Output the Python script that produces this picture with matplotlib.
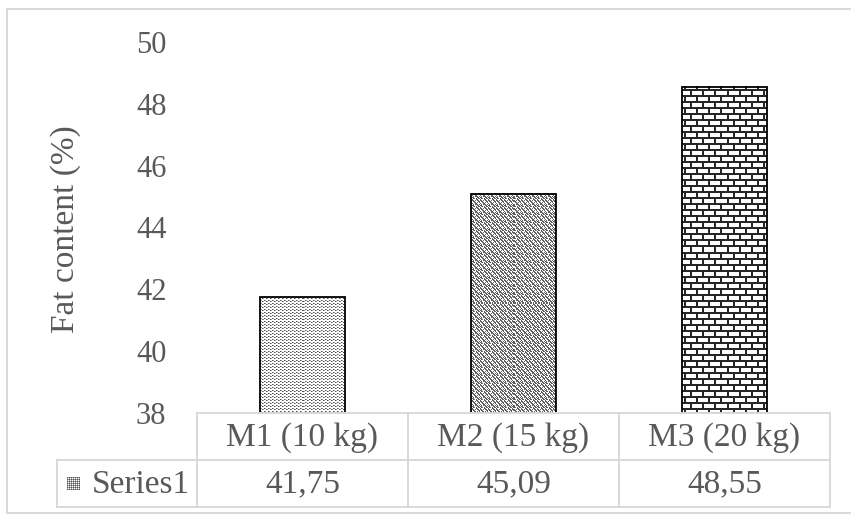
import numpy as np
import matplotlib
matplotlib.use("Agg")
import matplotlib.pyplot as plt
from matplotlib.lines import Line2D

# ---- data -------------------------------------------------------------
categories = ["M1 (10 kg)", "M2 (15 kg)", "M3 (20 kg)"]
fat_content = [41.75, 45.09, 48.55]
value_labels = ["41,75", "45,09", "48,55"]
series_name = "Series1"
y_ticks = [38, 40, 42, 44, 46, 48, 50]
y_range = (38, 50)

# ---- style ------------------------------------------------------------
plt.rcParams["font.family"] = ["Liberation Serif", "DejaVu Serif"]
TEXT = "#595959"
GRID = "#d9d9d9"
FS_TICK = 22
FS = 24

W, H = 851, 516
fig = plt.figure(figsize=(W / 100, H / 100), dpi=100)


def fx(px):
    return px / W


def fy(py):
    # py measured from the top edge of the canvas
    return 1 - py / H


AX_L, AX_R, AX_T, AX_B = 197, 830, 42, 413
ax = fig.add_axes([fx(AX_L), fy(AX_B), (AX_R - AX_L) / W, (AX_B - AX_T) / H])
ax.set_xlim(-0.5, len(categories) - 0.5)
ax.set_ylim(*y_range)
for s in ax.spines.values():
    s.set_visible(False)
ax.set_xticks([])
ax.set_yticks(y_ticks)
ax.tick_params(axis="y", length=0, pad=22, labelsize=FS_TICK, labelcolor=TEXT)

fig.text(fx(66), fy(229), "Fat content (%)", rotation=90, ha="center",
         va="center", fontsize=FS, color=TEXT)

# ---- fill patterns (pixel tiles) ---------------------------------------
D, M, Wh = (0.33, 0.33, 0.33), (0.62, 0.62, 0.62), (1.0, 1.0, 1.0)

dots_tile = np.array([
    [D, M, Wh, Wh],
    [Wh, Wh, D, M],
    [Wh, Wh, Wh, Wh],
    [D, M, Wh, Wh],
    [Wh, Wh, D, M],
    [Wh, Wh, Wh, Wh],
])

weave_bits = np.array([
    [1, 0, 0, 0, 1, 1, 0, 0],
    [1, 1, 0, 1, 0, 1, 1, 0],
    [0, 1, 1, 0, 0, 0, 1, 1],
    [0, 0, 1, 1, 0, 1, 0, 1],
    [1, 0, 0, 1, 1, 0, 0, 0],
    [0, 1, 0, 1, 1, 1, 0, 1],
    [1, 1, 0, 0, 0, 1, 1, 0],
    [0, 1, 1, 0, 1, 0, 1, 1],
])

brick_bits = np.zeros((12, 12), dtype=int)
brick_bits[0:2, :] = 1
brick_bits[6:8, :] = 1
brick_bits[2:6, 0:2] = 1
brick_bits[8:12, 6:8] = 1


def bits_to_rgb(bits, ink):
    out = np.ones(bits.shape + (3,))
    out[bits == 1] = ink
    return out


tiles = [
    dots_tile,
    bits_to_rgb(weave_bits, (0.38, 0.38, 0.38)),
    bits_to_rgb(brick_bits, (0.15, 0.15, 0.15)),
]


def tiled(tile, col0, row0, w, h):
    th, tw = tile.shape[:2]
    rows = (row0 + np.arange(h)) % th
    cols = (col0 + np.arange(w)) % tw
    return tile[rows[:, None], cols[None, :]]


# ---- bars --------------------------------------------------------------
x = np.arange(len(categories))
bar_w = 0.40
heights = [v - y_range[0] for v in fat_content]
bars = ax.bar(x, heights, width=bar_w, bottom=y_range[0],
              color="white", edgecolor="none", zorder=1)

for b, val, tile in zip(bars, fat_content, tiles):
    x0d, x1d = b.get_x(), b.get_x() + b.get_width()
    (px0, py0), (px1, py1) = ax.transData.transform([(x0d, y_range[0]), (x1d, val)])
    w = max(int(round(px1 - px0)), 1)
    h = max(int(round(py1 - py0)), 1)
    img = tiled(tile, int(round(px0)), int(round(H - py1)), w, h)
    ax.imshow(img, extent=(x0d, x1d, y_range[0], val), origin="upper",
              interpolation="nearest", aspect="auto", zorder=2)

ax.bar(x, heights, width=bar_w, bottom=y_range[0], facecolor="none",
       edgecolor="black", linewidth=1.3, zorder=3)
ax.set_xlim(-0.5, len(categories) - 0.5)
ax.set_ylim(*y_range)


# ---- data table below the plot ----------------------------------------
def hline(y, xa, xb):
    fig.add_artist(Line2D([fx(xa), fx(xb)], [fy(y), fy(y)],
                          transform=fig.transFigure, color=GRID, lw=1.4))


def vline(xp, ya, yb):
    fig.add_artist(Line2D([fx(xp), fx(xp)], [fy(ya), fy(yb)],
                          transform=fig.transFigure, color=GRID, lw=1.4))


ROW_MID, ROW_BOT, KEY_L = 460, 507, 57
col_edges = [ax.transData.transform((e, 0))[0]
             for e in np.arange(-0.5, len(categories), 1.0)]
hline(AX_B, AX_L, AX_R)
hline(ROW_MID, KEY_L, AX_R)
hline(ROW_BOT, KEY_L, AX_R)
for e in col_edges:
    vline(e, AX_B, ROW_BOT)
vline(KEY_L, ROW_MID, ROW_BOT)

for i, (cat, lab) in enumerate(zip(categories, value_labels)):
    cx = fx(ax.transData.transform((i, 0))[0])
    fig.text(cx, fy((AX_B + ROW_MID) / 2 + 1), cat, ha="center", va="center",
             fontsize=FS, color=TEXT)
    fig.text(cx, fy((ROW_MID + ROW_BOT) / 2 + 1), lab, ha="center", va="center",
             fontsize=FS, color=TEXT)

# legend key swatch and series name
key_tile = np.array([[D, M], [M, Wh]])
key = tiled(key_tile, 0, 0, 13, 13)
fig.figimage(key, xo=67, yo=H - 490, origin="upper", zorder=5)
fig.text(fx(92), fy((ROW_MID + ROW_BOT) / 2 + 1), series_name, ha="left",
         va="center", fontsize=FS, color=TEXT)

# ---- chart frame --------------------------------------------------------
hline(9, 7, W + 5)
hline(513, 7, W + 5)
vline(7, 9, 513)

fig.savefig("out.png", dpi=100)
